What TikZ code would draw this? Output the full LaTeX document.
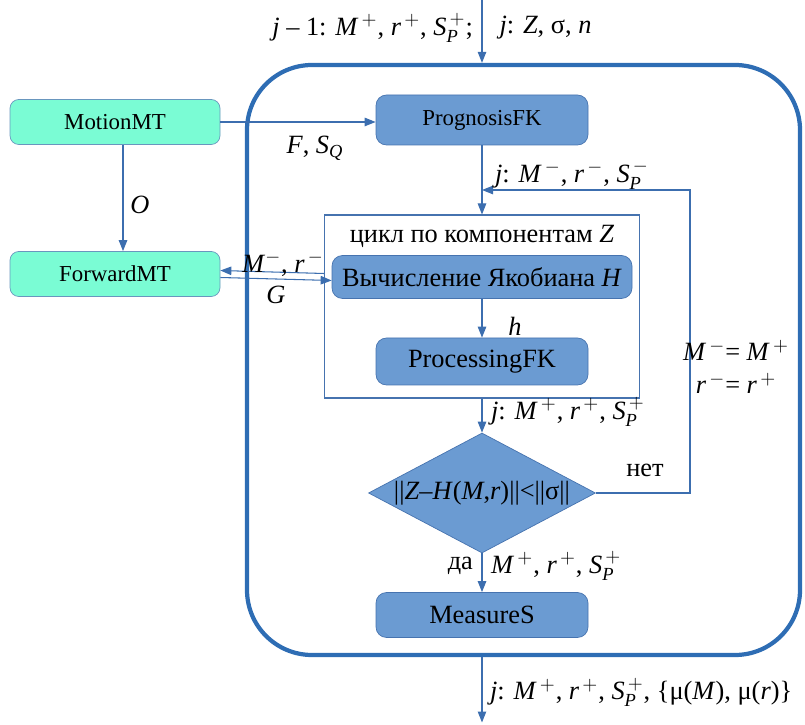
\documentclass[tikz,border=0pt]{standalone}
\usepackage{amsmath}
\usepackage{fontspec}
\setmainfont{Liberation Serif}
\usepackage{tikz}
\usetikzlibrary{arrows.meta,positioning,shapes.geometric}

\definecolor{mint}{RGB}{122,252,212}
\definecolor{mintline}{RGB}{105,150,190}
\definecolor{fkfill}{RGB}{107,155,210}
\definecolor{fkline}{RGB}{70,115,175}
\definecolor{loopblue}{RGB}{46,109,180}
\definecolor{arrblue}{RGB}{60,110,175}

\newcommand{\vi}[1]{\textit{#1}}
\newcommand{\SP}[1]{\vi{S}$_{\vi{P}}^{\,#1}$}

\begin{document}
\begin{tikzpicture}[
  mt/.style={rectangle, rounded corners=5pt, draw=mintline, fill=mint,
    minimum width=4.2cm, minimum height=0.9cm, font=\fontsize{13}{15}\selectfont},
  fk/.style={rectangle, rounded corners=6pt, draw=fkline, fill=fkfill,
    minimum width=4.24cm, minimum height=0.94cm, font=\fontsize{15}{18}\selectfont},
  lbl/.style={font=\fontsize{15}{15}\selectfont, inner sep=1pt},
  arr/.style={-{Triangle[length=2.2mm,width=1.7mm]}, draw=arrblue, line width=0.6pt}
]
  \useasboundingbox (0,0) rectangle (16.1,-14.5);

  % outer loop frame
  \node[draw=loopblue, line width=2.4pt, rounded corners=1.3cm,
    minimum width=11.06cm, minimum height=11.8cm] (loop) at (10.47,-7.2) {};

  \node[mt] (motion)  at (2.3,-2.44) {MotionMT};
  \node[mt] (forward) at (2.3,-5.48) {ForwardMT};
  \node[fk, font=\fontsize{13}{15}\selectfont, minimum height=1.0cm] (prog) at (9.64,-2.4) {PrognosisFK};

  % loop over components
  \node[draw=fkline, line width=0.6pt, minimum width=6.3cm, minimum height=3.66cm] (cycle) at (9.64,-6.13) {};
  \node[lbl] (cyclbl) at (9.64,-4.72) {цикл по компонентам \vi{Z}};
  \node[fk, minimum width=6cm, minimum height=0.86cm] (jacob) at (9.64,-5.54) {Вычисление Якобиана \vi{H}};
  \node[fk] (proc) at (9.64,-7.23) {ProcessingFK};

  \node[fk, diamond, sharp corners, aspect=1.9, inner sep=0pt,
    minimum width=4.54cm, minimum height=2.4cm] (check) at (9.64,-9.86)
    {||\vi{Z}–\vi{H}(\vi{M},\vi{r})||<||σ||};
  \node[fk, minimum height=0.9cm] (measure) at (9.64,-12.3) {MeasureS};

  \coordinate (in)   at (9.64,0);
  \coordinate (out)  at (9.64,-14.45);
  \coordinate (back) at (13.8,-3.8);

  \draw[arr] (in) -- (in |- loop.north);
  \draw[arr] (in |- loop.south) -- (out);
  \draw[arr] (motion.east) -- (motion.east -| prog.west);
  \draw[arr] ([xshift=0.16cm]motion.south) -- ([xshift=0.16cm]forward.north);
  \draw[arr] ([yshift=0.07cm]jacob.west -| cycle.west) -- ([yshift=0.07cm]forward.east);
  \draw[arr] ([yshift=-0.07cm]forward.east) -- ([yshift=-0.07cm]jacob.west);
  \draw[arr] (prog) -- (cycle.north);
  \draw[arr] (check.east) -| (back) -- (back -| prog.south);
  \draw[arr] (jacob) -- (proc);
  \draw[arr] (cycle.south) -- (check.north);
  \draw[arr] (check) -- (measure);

  % labels
  \node[lbl, anchor=east] (prevlbl) at (9.5,-0.56) {\vi{j} – 1: \vi{M}$^{\,+}$, \vi{r}$^{\,+}$, \SP{+};};
  \node[lbl, anchor=west] (curlbl) at (9.95,-0.56) {\vi{j}: \vi{Z}, σ, \vi{n}};
  \node[lbl] (fsq) at (6.3,-2.96) {\vi{F}, \vi{S}$_{\vi{Q}}$};
  \node[lbl] (olbl) at (2.8,-4.1) {\vi{O}};
  \node[lbl, anchor=west] (predlbl) at (9.86,-3.5) {\vi{j}: \vi{M}$^{\,-}$, \vi{r}$^{\,-}$, \SP{-}};
  \node[lbl] (mrlbl) at (5.66,-5.28) {\vi{M}$^{-}$, \vi{r}$^{\,-}$};
  \node[lbl] (glbl) at (5.52,-5.9) {\vi{G}};
  \node[lbl] (hlbl) at (10.3,-6.52) {\vi{h}};
  \node[lbl, align=center] (resetlbl) at (14.72,-7.34)
    {\vi{M}$^{\,-}$= \vi{M}$^{\,+}$\\[4pt]\vi{r}$^{\,-}$= \vi{r}$^{\,+}$};
  \node[lbl, anchor=west] (updlbl) at (9.78,-8.24) {\vi{j}: \vi{M}$^{\,+}$, \vi{r}$^{\,+}$, \SP{+}};
  \node[lbl] (nolbl) at (12.9,-9.4) {нет};
  \node[lbl, anchor=east] (yeslbl) at (9.5,-11.32) {да};
  \node[lbl, anchor=west] (oklbl) at (9.78,-11.32) {\vi{M}$^{\,+}$, \vi{r}$^{\,+}$, \SP{+}};
  \node[lbl, anchor=west] (outlbl) at (9.76,-13.85)
    {\vi{j}: \vi{M}$^{\,+}$, \vi{r}$^{\,+}$, \SP{+}, \{μ(\vi{M}), μ(\vi{r})\}};
\end{tikzpicture}
\end{document}
